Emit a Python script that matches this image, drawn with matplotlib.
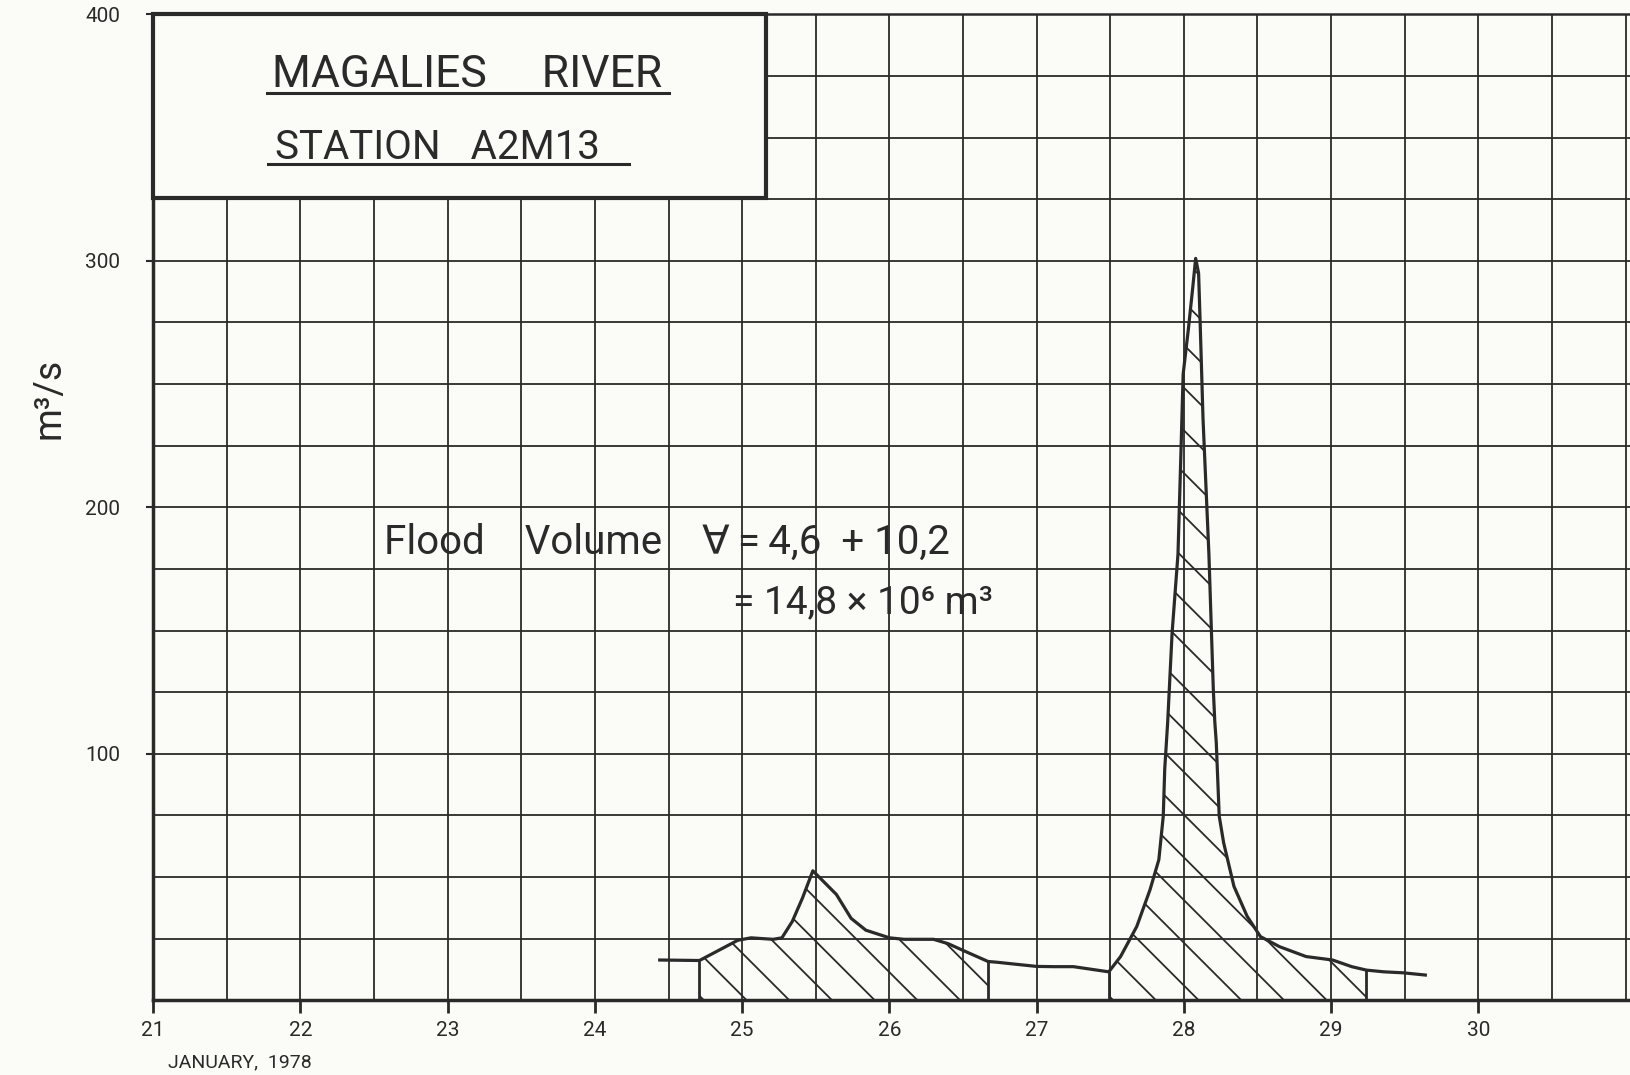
import numpy as np
import matplotlib
matplotlib.use("Agg")
import matplotlib.pyplot as plt
from matplotlib.patches import Rectangle

# hydrograph: day of January 1978 -> discharge (m3/s)
day = [24.44, 24.71, 24.97, 25.06, 25.21, 25.27, 25.34, 25.41, 25.48, 25.64, 25.74, 25.84,
       26.0, 26.1, 26.3, 26.4, 26.5, 26.67, 26.73, 26.84, 27.0, 27.12, 27.25, 27.49,
       27.57, 27.68, 27.77, 27.83, 27.86, 27.87, 27.89, 27.92, 27.96, 27.98, 27.995,
       28.03, 28.06, 28.08, 28.10, 28.11, 28.13, 28.17, 28.20, 28.21, 28.22, 28.24,
       28.27, 28.34, 28.43, 28.52, 28.65, 28.83, 29.01, 29.14, 29.24, 29.36, 29.49, 29.64]
flow = [16.3, 16.1, 24.3, 25.3, 24.7, 25.3, 31.9, 41.5, 52.5, 42.9, 33.2, 28.4,
        25.3, 24.7, 24.7, 22.9, 20.2, 15.7, 15.4, 14.7, 13.7, 13.6, 13.6, 11.5,
        17.7, 29.9, 44.8, 57.0, 74.7, 93.8, 112.8, 149.0, 181.0, 222.0, 254.0,
        272.0, 289.0, 301.0, 295.0, 276.0, 236.0, 181.0, 126.0, 113.0, 104.6, 74.7,
        63.9, 46.2, 34.0, 25.8, 21.7, 17.7, 16.3, 13.6, 12.2, 11.5, 11.1, 10.2]

# the two flood volumes that are hatched (start, end day)
floods = [(24.71, 26.67), (27.49, 29.24)]

day_ticks = list(range(21, 31))
q_ticks = [100, 200, 300, 400]

title1 = "MAGALIES     RIVER"
title2 = "STATION   A2M13"
vol1 = "Flood    Volume    \u2200\u2009=\u20094,6  + 10,2"
vol2 = "= 14,8 \u00d7 10\u2076 m\u00b3"

ink = "#2a2a2a"
paper = "#fbfbf7"
plt.rcParams['font.family'] = ['Roboto', 'DejaVu Sans']

fig = plt.figure(figsize=(16.3, 10.75), dpi=100, facecolor=paper)
ax = fig.add_axes([0.094, 0.0696, 0.906, 0.917])
ax.set_facecolor(paper)
ax.set_xlim(21, 31.03)
ax.set_ylim(0, 400)

# grid: half days and 25 m3/s
ax.set_xticks(day_ticks)
ax.set_xticks(np.arange(21, 31.01, 0.5), minor=True)
ax.set_yticks(q_ticks)
ax.set_yticks(np.arange(0, 401, 25), minor=True)
ax.grid(True, which="both", color=ink, lw=1.3)
ax.set_axisbelow(True)
ax.tick_params(axis="x", which="major", direction="out", length=9, width=2,
               color=ink, labelsize=15, labelcolor=ink, pad=6)
ax.tick_params(axis="y", which="major", direction="out", length=5, width=1.5,
               color=ink, labelsize=15, labelcolor=ink, pad=19)
ax.tick_params(which="minor", length=0)
for s in ["left", "bottom"]:
    ax.spines[s].set_linewidth(2.5)
    ax.spines[s].set_color(ink)
ax.spines["top"].set_linewidth(1.8)
ax.spines["top"].set_color(ink)
ax.spines["right"].set_visible(False)

ax.set_ylabel("m\u00b3/s", fontsize=27, color=ink)
ax.yaxis.set_label_coords(-0.058, 0.61)
ax.text(21.1, -21.5, "JANUARY,  1978", fontsize=14, color=ink, va="top")

# hydrograph
ax.plot(day, flow, color=ink, lw=2.3, zorder=5)

# hatched flood volumes
bb = ax.get_window_extent()
k = (bb.width / (31.03 - 21)) / (bb.height / 400)   # y units per day for 45 deg
for a, b in floods:
    i, j = day.index(a), day.index(b)
    xs, ys = day[i:j + 1], flow[i:j + 1]
    poly = ax.fill_between(xs, 0, ys, facecolor="none", edgecolor="none")
    clip = poly.get_paths()[0]
    ax.vlines([a, b], 0, [ys[0], ys[-1]], color=ink, lw=2.0, zorder=5)
    for x0 in np.arange(a + 0.03, b + 320 / k, 0.29):
        ln, = ax.plot([x0 - 320 / k, x0], [320, 0], color=ink, lw=1.3, zorder=4)
        ln.set_clip_path(clip, ax.transData)

# title box
ax.add_patch(Rectangle((21, 325.7), 4.16, 74.3, facecolor=paper, edgecolor=ink,
                       lw=3, zorder=6, clip_on=False))
ax.text(21.81, 370.5, title1, fontsize=32, color=ink, zorder=7)
ax.plot([21.77, 24.50], [368, 368], color=ink, lw=2.2, zorder=7)
ax.text(21.83, 341.4, title2, fontsize=29, color=ink, zorder=7)
ax.plot([21.78, 24.23], [339.2, 339.2], color=ink, lw=2.2, zorder=7)

# volume note
ax.text(22.57, 181, vol1, fontsize=29, color=ink, zorder=7)
ax.text(24.94, 157, vol2, fontsize=28, color=ink, zorder=7)

fig.savefig("out.png", dpi=100, facecolor=paper)
